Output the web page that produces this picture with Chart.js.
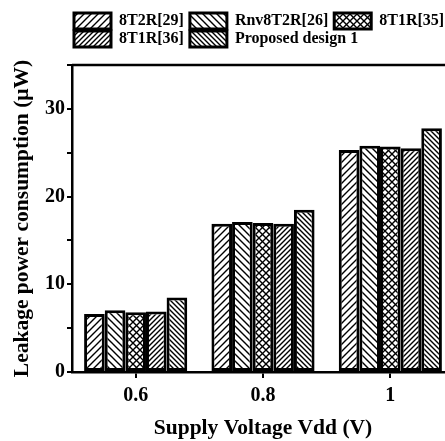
<!DOCTYPE html>
<html>
<head>
<meta charset="utf-8">
<script src="https://cdn.jsdelivr.net/npm/chart.js@4/dist/chart.umd.min.js"></script>
<style>
  html, body { margin: 0; padding: 0; background: #fff; overflow: hidden; }
  #wrap { width: 445px; height: 441px; overflow: hidden; }
</style>
</head>
<body>
<div id="wrap"><canvas id="leakChart" width="460" height="441"></canvas></div>
<script>
const voltages = ["0.6", "0.8", "1"];
const designs = ["8T2R[29]", "Rnv8T2R[26]", "8T1R[35]", "8T1R[36]", "Proposed design 1"];
const leak8T2R29 = [6.6, 16.9, 25.3];
const leakRnv8T2R26 = [7.05, 17.1, 25.8];
const leak8T1R35 = [6.8, 17.0, 25.7];
const leak8T1R36 = [6.9, 16.9, 25.5];
const leakProposed = [8.5, 18.5, 27.8];
const yMax = 35;

const serif = "'Liberation Serif', 'Times New Roman', serif";

// hatch fills: "fwd" = /, "back" = \, "cross" = x
function hatch(kind, p) {
  const c = document.createElement("canvas");
  c.width = p; c.height = p;
  const g = c.getContext("2d");
  g.fillStyle = "#fff";
  g.fillRect(0, 0, p, p);
  g.strokeStyle = "#000";
  g.lineWidth = 1.4;
  const fwd = () => {
    g.beginPath();
    g.moveTo(-1, p + 1); g.lineTo(p + 1, -1);
    g.moveTo(-1, 1); g.lineTo(1, -1);
    g.moveTo(p - 1, p + 1); g.lineTo(p + 1, p - 1);
    g.stroke();
  };
  const back = () => {
    g.beginPath();
    g.moveTo(-1, -1); g.lineTo(p + 1, p + 1);
    g.moveTo(p - 1, -1); g.lineTo(p + 1, 1);
    g.moveTo(-1, p - 1); g.lineTo(1, p + 1);
    g.stroke();
  };
  if (kind === "fwd" || kind === "cross") fwd();
  if (kind === "back" || kind === "cross") back();
  return g.createPattern(c, "repeat");
}

const fills = [hatch("fwd", 7), hatch("back", 7), hatch("cross", 7), hatch("fwd", 5), hatch("back", 5)];
const series = [leak8T2R29, leakRnv8T2R26, leak8T1R35, leak8T1R36, leakProposed];

const frame = {
  id: "frame",
  afterDraw(chart) {
    const { ctx, chartArea: a } = chart;
    ctx.save();
    ctx.strokeStyle = "#000";
    ctx.lineWidth = 2.5;
    ctx.beginPath();
    ctx.moveTo(a.left, a.top);
    ctx.lineTo(a.right, a.top);
    ctx.lineTo(a.right, a.bottom);
    ctx.stroke();
    ctx.restore();
  }
};

new Chart(document.getElementById("leakChart"), {
  type: "bar",
  data: {
    labels: voltages,
    datasets: designs.map((name, i) => ({
      label: name,
      data: series[i],
      backgroundColor: fills[i],
      borderColor: "#000",
      borderWidth: 3,
      borderSkipped: false,
      categoryPercentage: 0.81,
      barPercentage: 1.0
    }))
  },
  plugins: [frame],
  options: {
    responsive: false,
    animation: false,
    layout: { padding: { top: 11, left: 10, right: 6, bottom: 0 } },
    plugins: {
      tooltip: { enabled: false },
      legend: {
        position: "top",
        align: "start",
        fullSize: false,
        labels: {
          boxWidth: 37,
          boxHeight: 16,
          padding: 2,
          color: "#000",
          font: { family: serif, size: 16, weight: "bold" },
          generateLabels: chart =>
            Chart.defaults.plugins.legend.labels.generateLabels(chart).map(l => ({ ...l, text: l.text + " " }))
        }
      }
    },
    scales: {
      x: {
        afterFit: s => { s.height = 69; },
        border: { color: "#000", width: 2.5 },
        grid: { display: true, offset: false, drawOnChartArea: false, tickLength: 6, color: "#000", lineWidth: 2 },
        ticks: { color: "#000", padding: 6, font: { family: serif, size: 20, weight: "bold" } },
        title: {
          display: true,
          text: "Supply Voltage Vdd (V)",
          color: "#000",
          padding: { top: 6, bottom: 0 },
          font: { family: serif, size: 21.5, weight: "bold" }
        }
      },
      x2: {
        type: "category",
        position: "top",
        afterFit: s => { s.height = 8; },
        border: { display: false },
        grid: { display: false },
        ticks: { display: false }
      },
      y: {
        min: 0,
        max: yMax,
        afterFit: s => { s.width = 62; },
        border: { color: "#000", width: 2.5 },
        grid: { display: true, drawOnChartArea: false, tickLength: 5, color: "#000", lineWidth: 2 },
        ticks: {
          stepSize: 5,
          color: "#000",
          padding: 2,
          font: { family: serif, size: 20, weight: "bold" },
          callback: v => (v % 10 === 0 ? v : "")
        },
        title: {
          display: true,
          text: "Leakage power consumption (\u03bcW)",
          color: "#000",
          padding: 0,
          font: { family: serif, size: 21.5, weight: "bold" }
        }
      }
    }
  }
});
</script>
</body>
</html>
